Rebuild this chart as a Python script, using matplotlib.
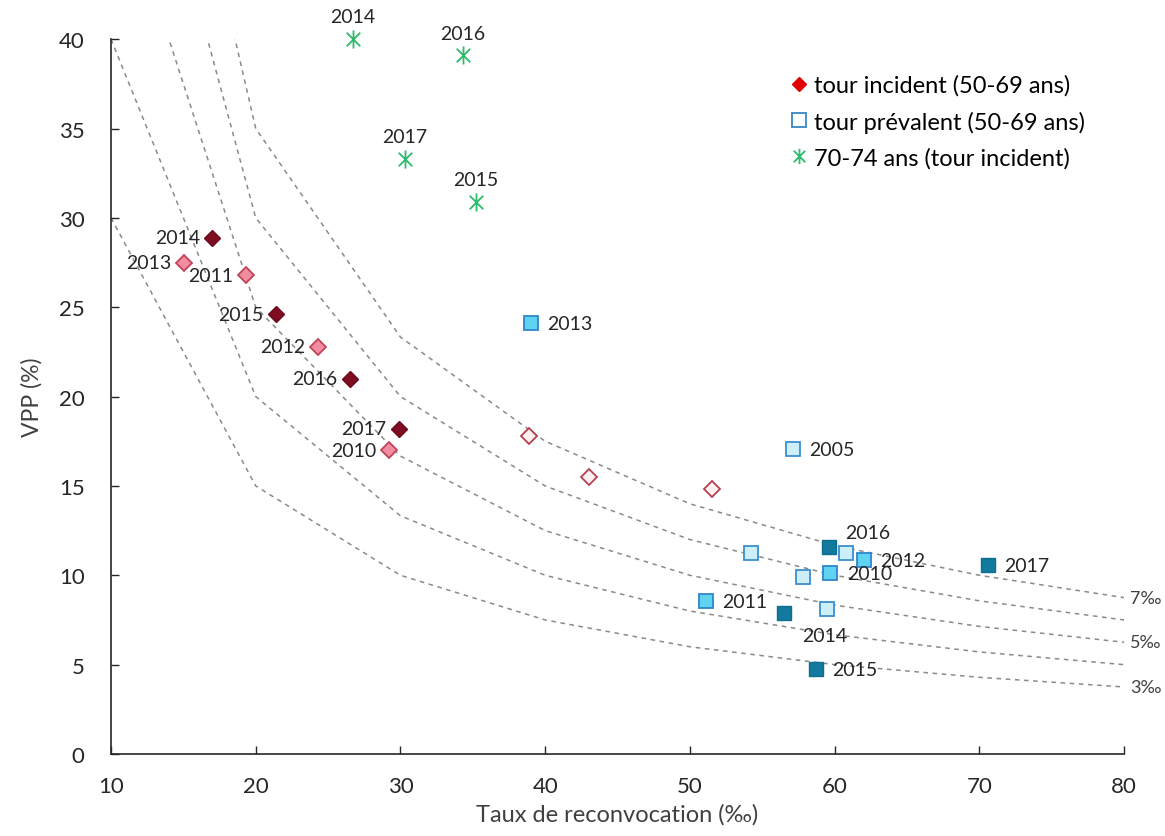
import matplotlib
matplotlib.use("Agg")
import matplotlib.pyplot as plt
from matplotlib.lines import Line2D
from matplotlib.path import Path

plt.rcParams["font.family"] = ["Lato", "DejaVu Sans"]

# iso-lines of detection rate (VPP = taux de détection / taux de reconvocation)
iso_x = [10, 20, 30, 40, 50, 60, 70, 80]
iso_3 = [30.0, 15.0, 10.0, 7.5, 6.0, 5.0, 4.29, 3.75]
iso_4 = [40.0, 20.0, 13.33, 10.0, 8.0, 6.67, 5.71, 5.0]
iso_5 = [50.0, 25.0, 16.67, 12.5, 10.0, 8.33, 7.14, 6.25]
iso_6 = [60.0, 30.0, 20.0, 15.0, 12.0, 10.0, 8.57, 7.5]
iso_7 = [70.0, 35.0, 23.33, 17.5, 14.0, 11.67, 10.0, 8.75]
iso_lines = [iso_3, iso_4, iso_5, iso_6, iso_7]
iso_labels = {"3‰": iso_3, "5‰": iso_5, "7‰": iso_7}

# tour incident 50-69 ans
inc_dark_years = ["2014", "2015", "2016", "2017"]
inc_dark_x = [17.0, 21.4, 26.5, 29.9]
inc_dark_y = [28.9, 24.6, 21.0, 18.2]
inc_pink_years = ["2013", "2011", "2012", "2010"]
inc_pink_x = [15.05, 19.3, 24.3, 29.2]
inc_pink_y = [27.5, 26.8, 22.8, 17.0]
inc_open_x = [38.9, 43.0, 51.5]
inc_open_y = [17.8, 15.5, 14.8]

# tour prévalent 50-69 ans
prev_dark_years = ["2016", "2014", "2015", "2017"]
prev_dark_x = [59.6, 56.5, 58.7, 70.6]
prev_dark_y = [11.6, 7.9, 4.75, 10.55]
prev_mid_years = ["2013", "2012", "2010", "2011"]
prev_mid_x = [39.0, 62.0, 59.7, 51.1]
prev_mid_y = [24.1, 10.85, 10.1, 8.55]
prev_light_years = ["2005", "", "", "", ""]
prev_light_x = [57.1, 60.8, 54.2, 57.8, 59.5]
prev_light_y = [17.05, 11.25, 11.25, 9.9, 8.1]

# 70-74 ans (tour incident)
old_years = ["2014", "2016", "2017", "2015"]
old_x = [26.7, 34.3, 30.3, 35.2]
old_y = [40.0, 39.1, 33.3, 30.9]

# Excel-style star: an X with a vertical bar through it
star = Path([(0, -1), (0, 1), (-0.75, -0.75), (0.75, 0.75), (-0.75, 0.75), (0.75, -0.75)],
            [Path.MOVETO, Path.LINETO] * 3)

fig = plt.figure(figsize=(11.65, 8.37), dpi=100)
ax = fig.add_axes([0.0953, 0.098, 0.8695, 0.854])

for ys in iso_lines:
    ax.plot(iso_x, ys, color="#8a8a8a", ls=(0, (3, 3)), lw=1.1, zorder=1)
for lab, ys in iso_labels.items():
    ax.text(80.4, ys[-1], lab, fontsize=13, color="#404040", va="center",
            ha="left", clip_on=False)

ax.plot(inc_open_x, inc_open_y, ls="none", marker="D", ms=8.3, mfc="#fdf0f2",
        mec="#b8404e", mew=1.3, zorder=3)
ax.plot(inc_pink_x, inc_pink_y, ls="none", marker="D", ms=8.3, mfc="#f28ca0",
        mec="#c24459", mew=1.3, zorder=3)
ax.plot(inc_dark_x, inc_dark_y, ls="none", marker="D", ms=8.3, mfc="#7f0d22",
        mec="#6e0a1c", mew=1.0, zorder=3)
ax.plot(prev_light_x, prev_light_y, ls="none", marker="s", ms=10.5, mfc="#cdeff9",
        mec="#3a8fd0", mew=1.3, zorder=3)
ax.plot(prev_mid_x, prev_mid_y, ls="none", marker="s", ms=10.5, mfc="#5fd3f2",
        mec="#2e86c8", mew=1.3, zorder=3)
ax.plot(prev_dark_x, prev_dark_y, ls="none", marker="s", ms=10.5, mfc="#117a9e",
        mec="#0e6e8c", mew=1.0, zorder=3)
ax.plot(old_x, old_y, ls="none", marker=star, ms=13, mec="#2dbb6c",
        mew=1.3, zorder=3, clip_on=False)

lab_kw = dict(textcoords="offset points", fontsize=14, color="#262626", va="center")
for yr, x, y in zip(inc_dark_years + inc_pink_years,
                    inc_dark_x + inc_pink_x, inc_dark_y + inc_pink_y):
    ax.annotate(yr, (x, y), xytext=(-9, 0), ha="right", **lab_kw)

prev_offsets = {("2016", 59.6): (12, 10), ("2014", 56.5): (13, -16)}
for yr, x, y in zip(prev_dark_years + prev_mid_years + prev_light_years,
                    prev_dark_x + prev_mid_x + prev_light_x,
                    prev_dark_y + prev_mid_y + prev_light_y):
    if not yr:
        continue
    off = prev_offsets.get((yr, x), (12, 0))
    ax.annotate(yr, (x, y), xytext=off, ha="left", **lab_kw)

for yr, x, y in zip(old_years, old_x, old_y):
    ax.annotate(yr, (x, y), xytext=(0, 16), ha="center", annotation_clip=False,
                **lab_kw)

ax.set_xlim(10, 80)
ax.set_ylim(0, 40)
ax.set_xticks(range(10, 81, 10))
ax.set_yticks(range(0, 41, 5))
ax.tick_params(direction="in", length=6, width=1, labelsize=16, colors="#262626")
ax.tick_params(axis="y", pad=19)
ax.tick_params(axis="x", pad=16)
for side in ("top", "right"):
    ax.spines[side].set_visible(False)
for side in ("left", "bottom"):
    ax.spines[side].set_color("#262626")
    ax.spines[side].set_linewidth(1.2)

ax.set_xlabel("Taux de reconvocation (‰)", fontsize=17, color="#404040", labelpad=5)
ax.set_ylabel("VPP (%)", fontsize=16.5, color="#404040", labelpad=12)

handles = [
    Line2D([0], [0], ls="none", marker="D", ms=7.5, mfc="#e00000", mec="#e00000"),
    Line2D([0], [0], ls="none", marker="s", ms=10.5, mfc="white", mec="#3a86c8", mew=1.3),
    Line2D([0], [0], ls="none", marker=star, ms=11, mec="#2dbb6c", mew=1.3),
]
ax.legend(handles, ["tour incident (50-69 ans)", "tour prévalent (50-69 ans)",
                    "70-74 ans (tour incident)"],
          loc="upper left", bbox_to_anchor=(0.658, 0.964), frameon=False,
          fontsize=17, handletextpad=0.15, labelspacing=0.62, handlelength=1.0,
          borderaxespad=0)

fig.savefig("out.png", dpi=100)
